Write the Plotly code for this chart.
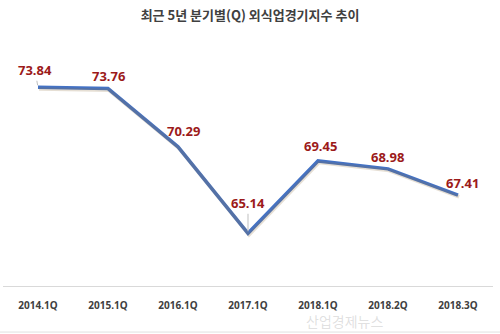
import plotly.graph_objects as go

# Quarterly food-service business index
quarters = ["2014.1Q", "2015.1Q", "2016.1Q", "2017.1Q", "2018.1Q", "2018.2Q", "2018.3Q"]
index_values = [73.84, 73.76, 70.29, 65.14, 69.45, 68.98, 67.41]

# label offsets (pixels) from each point: (dx, dy)
label_offsets = [(-3, -17), (0, -13), (5, -16), (0, -30), (2, -15), (-1, -12), (4, -12)]
leader_line = [True, False, False, True, False, False, False]

line_color = "#4472C4"
label_color = "#9C1A1A"

fig = go.Figure()

# soft shadow under the line
fig.add_trace(go.Scatter(
    x=quarters, y=index_values, mode="lines",
    line=dict(color="rgba(140,110,60,0.22)", width=3.5),
    xaxis="x2", yaxis="y2", hoverinfo="skip", showlegend=False,
))

fig.add_trace(go.Scatter(
    x=quarters, y=index_values, mode="lines",
    line=dict(color=line_color, width=3.5),
    showlegend=False,
))

for q, v, (dx, dy), lead in zip(quarters, index_values, label_offsets, leader_line):
    fig.add_annotation(
        x=q, y=v, text=f"<b>{v:.2f}</b>",
        showarrow=lead, arrowhead=0, arrowwidth=1, arrowcolor="#BFBFBF",
        ax=dx, ay=dy, standoff=2,
        xshift=0 if lead else dx, yshift=0 if lead else -dy,
        font=dict(family="Noto Sans, Open Sans, sans-serif", size=13, color=label_color),
    )

fig.add_annotation(
    text="산업경제뉴스", xref="paper", yref="paper", x=0.78, y=-0.148,
    yanchor="middle", showarrow=False,
    font=dict(family="Noto Sans CJK KR", size=14, color="rgba(150,150,150,0.3)"),
)

fig.add_shape(type="line", xref="paper", yref="paper", x0=-0.01, x1=1.02,
              y0=-0.196, y1=-0.196, line=dict(color="#E0E0E0", width=1))

fig.update_layout(
    width=500, height=334,
    margin=dict(l=3, r=7, t=51, b=48),
    paper_bgcolor="white", plot_bgcolor="white",
    title=dict(
        text="<b>최근 5년 분기별(Q) 외식업경기지수 추이</b>",
        x=0.5, xanchor="center", y=0.955, yanchor="middle",
        font=dict(family="Noto Sans CJK KR", size=13, color="#404040"),
    ),
    xaxis=dict(
        type="category", range=[-0.5, 6.5], showgrid=False, zeroline=False,
        showline=True, linecolor="#D9D9D9", linewidth=1,
        ticks="", ticklabelstandoff=10,
        tickfont=dict(family="Noto Sans, Open Sans, sans-serif", size=10, color="#404040"),
        tickprefix="<b>", ticksuffix="</b>",
    ),
    xaxis2=dict(
        type="category", overlaying="x", visible=False,
        range=[-0.5 - 0.015, 6.5 - 0.015],
    ),
    yaxis=dict(range=[62, 76], visible=False, showgrid=False, zeroline=False),
    yaxis2=dict(range=[62 + 0.1, 76 + 0.1], overlaying="y", visible=False,
                showgrid=False, zeroline=False),
)

fig.write_html("out.html")
